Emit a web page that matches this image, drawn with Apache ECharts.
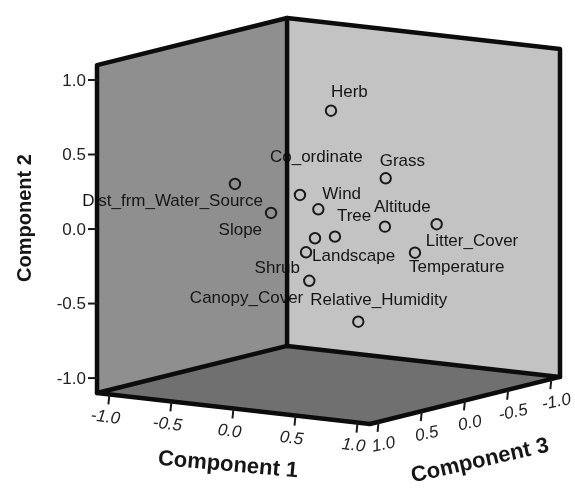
<!DOCTYPE html>
<html><head><meta charset="utf-8">
<script src="https://cdn.jsdelivr.net/npm/echarts@6/dist/echarts.min.js"></script>
<style>html,body{margin:0;padding:0;background:#fff}#c{width:575px;height:489px}</style>
</head><body><div id="c"></div>
<script>
// ---- Data (component loadings; depth (component 3) is not readable, estimated 0) ----
const variables = ['Herb','Co_ordinate','Grass','Dist_frm_Water_Source','Wind','Slope','Tree','Altitude','Litter_Cover','Landscape','Temperature','Shrub','Canopy_Cover','Relative_Humidity'];
const component1 = [0.020,-0.230,0.461,-0.754,-0.082,-0.463,0.052,0.455,0.872,-0.181,0.697,-0.109,-0.155,0.240];
const component2 = [0.742,0.153,0.330,0.177,0.071,0.010,-0.100,0.005,0.061,-0.227,-0.147,-0.126,-0.416,-0.653];
const component3 = [0,0,0,0,0,0,0,0,0,0,0,0,0,0];
const tickValues = [-1.0,-0.5,0.0,0.5,1.0];
const tickLabels = ['-1.0','-0.5','0.0','0.5','1.0'];
const axisTitles = ['Component 1','Component 2','Component 3'];

// ---- Style / layout (kept separate from data) ----
const labelPlacement = [ // [dx, dy, align] of each label relative to its marker
  [0,-18.5,'left'],[-30,-38,'left'],[-6,-17,'left'],[28,17.5,'right'],[4,-15,'left'],
  [-9,17,'right'],[2,-20.5,'left'],[-11,-19.5,'left'],[-11,17,'left'],[6,4,'left'],
  [-6,15,'left'],[-15,30.5,'right'],[-6,17,'right'],[-48,-21.5,'left']
];
const BOX = 1.1;
const PROJ = {c3h:-0.6964, c1v:-0.0946, c3v:-0.1436};
const H = BOX*(1+Math.abs(PROJ.c3h));
const V = BOX*(1+Math.abs(PROJ.c1v)+Math.abs(PROJ.c3v));
function project(c1,c2,c3){ return [c1 + PROJ.c3h*c3, c2 + PROJ.c1v*c1 + PROJ.c3v*c3]; }
const FONT = '"Liberation Sans", Arial, sans-serif';

const chart = echarts.init(document.getElementById('c'), null, {renderer:'canvas'});
const pts = variables.map((n,i)=>[component1[i],component2[i],component3[i]]);

function P(api,c1,c2,c3){ return api.coord(project(c1,c2,c3)); }

const option = {
  animation:false,
  backgroundColor:'#ffffff',
  grid:{left:97, top:18, width:463, height:406, containLabel:false},
  xAxis:{type:'value', min:-H, max:H, show:false},
  yAxis:{type:'value', min:-V, max:V, show:false},
  graphic:[
    {type:'text', x:25, y:218, rotation:Math.PI/2, style:{text:axisTitles[1], font:'bold 20px '+FONT, align:'center', verticalAlign:'middle', fill:'#161616'}},
    {type:'text', x:228, y:465, rotation:-0.09, style:{text:axisTitles[0], font:'bold 22px '+FONT, align:'center', verticalAlign:'middle', fill:'#161616'}},
    {type:'text', x:480, y:461, rotation:0.225, style:{text:axisTitles[2], font:'bold 22px '+FONT, align:'center', verticalAlign:'middle', fill:'#161616'}}
  ],
  series:[
    { // walls
      type:'custom', z:1, silent:true, clip:false, data:[[0,0]],
      renderItem:function(params, api){
        const b=BOX;
        const A=P(api,-b,b,b), B=P(api,-b,b,-b), C=P(api,b,b,-b), D=P(api,b,-b,-b),
              E=P(api,b,-b,b), F=P(api,-b,-b,b), G=P(api,-b,-b,-b);
        return {type:'group', children:[
          {type:'polygon', shape:{points:[A,B,G,F]}, style:{fill:'#8f8f8f'}},
          {type:'polygon', shape:{points:[B,C,D,G]}, style:{fill:'#c3c3c3'}},
          {type:'polygon', shape:{points:[F,G,D,E]}, style:{fill:'#707070'}}
        ]};
      }
    },
    { // points and labels
      type:'custom', z:2, silent:true, clip:false, data:pts,
      renderItem:function(params, api){
        const i=params.dataIndex;
        const p=P(api, api.value(0), api.value(1), api.value(2));
        const lp=labelPlacement[i];
        return {type:'group', children:[
          {type:'circle', shape:{cx:p[0], cy:p[1], r:5.2}, style:{fill:'none', stroke:'#1a1a1a', lineWidth:2}},
          {type:'text', x:p[0]+lp[0], y:p[1]+lp[1], style:{text:variables[i], font:'17px '+FONT, align:lp[2], verticalAlign:'middle', fill:'#161616'}}
        ]};
      }
    },
    { // edges and axes
      type:'custom', z:3, silent:true, clip:false, data:[[0,0]],
      renderItem:function(params, api){
        const b=BOX;
        const A=P(api,-b,b,b), B=P(api,-b,b,-b), C=P(api,b,b,-b), D=P(api,b,-b,-b),
              E=P(api,b,-b,b), F=P(api,-b,-b,b), G=P(api,-b,-b,-b);
        const es={stroke:'#0c0c0c', lineWidth:4.5, lineJoin:'round', lineCap:'round', fill:null};
        const ch=[
          {type:'polygon', shape:{points:[A,B,C,D,E,F]}, style:Object.assign({},es,{fill:'none'})},
          {type:'line', shape:{x1:B[0],y1:B[1],x2:G[0],y2:G[1]}, style:es},
          {type:'line', shape:{x1:F[0],y1:F[1],x2:G[0],y2:G[1]}, style:es},
          {type:'line', shape:{x1:G[0],y1:G[1],x2:D[0],y2:D[1]}, style:es}
        ];
        const ts={stroke:'#1a1a1a', lineWidth:2};
        tickValues.forEach(function(t,k){
          // Component 2 (vertical)
          const q=P(api,-b,t,b);
          ch.push({type:'line', shape:{x1:q[0]-9,y1:q[1],x2:q[0],y2:q[1]}, style:ts});
          ch.push({type:'text', x:q[0]-11, y:q[1]+1, style:{text:tickLabels[k], font:'17px '+FONT, align:'right', verticalAlign:'middle', fill:'#222'}});
          // Component 1 (front-left floor edge)
          const r=P(api,t,-b,b);
          ch.push({type:'line', shape:{x1:r[0],y1:r[1],x2:r[0]-1,y2:r[1]+10}, style:ts});
          ch.push({type:'text', x:r[0]-4, y:r[1]+23, rotation:-0.12, style:{text:tickLabels[k], font:'italic 17px '+FONT, align:'center', verticalAlign:'middle', fill:'#222'}});
          // Component 3 (front-right floor edge)
          const s=P(api,b,-b,t);
          ch.push({type:'line', shape:{x1:s[0],y1:s[1],x2:s[0]-1,y2:s[1]+10}, style:ts});
          ch.push({type:'text', x:s[0]+5, y:s[1]+23, rotation:0.2, style:{text:tickLabels[k], font:'italic 17px '+FONT, align:'center', verticalAlign:'middle', fill:'#222'}});
        });
        return {type:'group', children:ch};
      }
    }
  ]
};
chart.setOption(option);
</script></body></html>
